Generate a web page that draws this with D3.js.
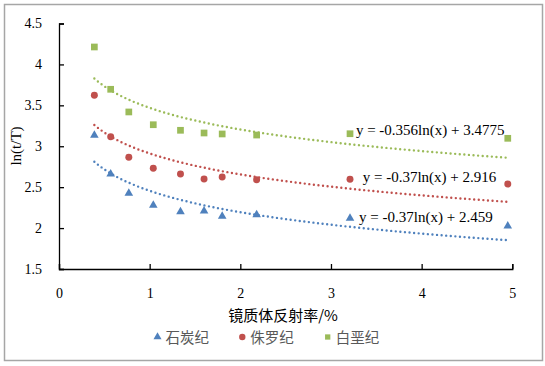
<!DOCTYPE html>
<html lang="zh">

<head>
    <meta charset="UTF-8">
    <title>ln(t/T) vs 镜质体反射率</title>
    <style>
        body {
            margin: 0;
            background-color: #fff;
        }

        .tick text {
            font-family: "Liberation Serif", "Times New Roman", serif;
            font-size: 14px;
            fill: #000;
        }

        .eq {
            font-family: "Liberation Serif", "Times New Roman", serif;
            font-size: 15px;
            fill: #000;
        }
    </style>
</head>

<body>
    <script src="https://d3js.org/d3.v7.min.js"></script>
    <div id="my_dataviz"></div>
    <script>

        // data
        const ro = [0.39, 0.57, 0.77, 1.04, 1.34, 1.60, 1.80, 2.18, 3.21, 4.95];
        const carboniferous = [3.134, 2.662, 2.425, 2.278, 2.200, 2.209, 2.144, 2.164, 2.120, 2.025];
        const jurassic = [3.623, 3.117, 2.865, 2.731, 2.662, 2.600, 2.625, 2.591, 2.596, 2.539];
        const cretaceous = [4.213, 3.696, 3.419, 3.263, 3.195, 3.162, 3.150, 3.137, 3.153, 3.097];

        const seriesNames = ["石炭纪", "侏罗纪", "白垩纪"];
        // equation text as printed on the chart
        const fitText = ["y = -0.37ln(x) + 2.459", "y = -0.37ln(x) + 2.916", "y = -0.356ln(x) + 3.4775"];
        // label anchor in data units
        const labelX = [3.31, 3.35, 3.275];
        const labelY = [2.078, 2.567, 3.137];

        const xTicks = [0, 1, 2, 3, 4, 5];
        const yTicks = [1.5, 2, 2.5, 3, 3.5, 4, 4.5];

        const colors = ["#4f81bd", "#c0504d", "#9bbb59"];
        const symbols = [d3.symbolTriangle, d3.symbolCircle, d3.symbolSquare];

        const W = 545, H = 366;
        const margin = { top: 23.5, left: 59, right: 32.7, bottom: 97 };
        const width = W - margin.left - margin.right,
            height = H - margin.top - margin.bottom;

        // log trendline, least squares like the spreadsheet does it
        function logFit(xv, yv) {
            const lx = xv.map(Math.log);
            const mx = d3.mean(lx), my = d3.mean(yv);
            let sxy = 0, sxx = 0;
            lx.forEach((v, i) => { sxy += (v - mx) * (yv[i] - my); sxx += (v - mx) * (v - mx); });
            const a = sxy / sxx;
            return { a: a, b: my - a * mx };
        }

        const root = d3.select("#my_dataviz")
            .append("svg")
            .attr("width", W)
            .attr("height", H);

        // chart border
        root.append("rect")
            .attr("x", 4.5).attr("y", 4.5)
            .attr("width", 538).attr("height", 356)
            .attr("fill", "#fff")
            .attr("stroke", "#a6a6a6")
            .attr("stroke-width", 1.5);

        const svg = root.append("g")
            .attr("transform", `translate(${margin.left},${margin.top})`);

        const x = d3.scaleLinear().domain([0, 5]).range([0, width]);
        const y = d3.scaleLinear().domain([1.5, 4.5]).range([height, 0]);

        // axes, ticks pointing inward
        const xAxis = svg.append("g")
            .attr("transform", `translate(0,${height})`)
            .call(d3.axisBottom(x).tickValues(xTicks).tickFormat(d3.format("d"))
                .tickSizeInner(-5).tickSizeOuter(-5).tickPadding(19));
        const yAxis = svg.append("g")
            .call(d3.axisLeft(y).tickValues(yTicks).tickFormat(d => d)
                .tickSizeInner(-5).tickSizeOuter(-5).tickPadding(17));
        [xAxis, yAxis].forEach(a => {
            a.select(".domain").attr("stroke", "#000").attr("stroke-width", 1.3);
            a.selectAll(".tick line").attr("stroke", "#000").attr("stroke-width", 1.3);
        });

        // axis titles
        svg.append("text")
            .attr("x", 283 - margin.left)
            .attr("y", 321 - margin.top)
            .attr("text-anchor", "middle")
            .style("font-family", "'Noto Sans CJK SC', sans-serif")
            .style("font-size", "15px")
            .style("fill", "#000")
            .text("镜质体反射率/%");

        svg.append("text")
            .attr("transform", `translate(${21 - margin.left},${146 - margin.top}) rotate(-90)`)
            .attr("text-anchor", "middle")
            .style("font-family", "'Liberation Serif', 'Times New Roman', serif")
            .style("font-size", "15px")
            .style("fill", "#000")
            .text("ln(t/T)");

        const allSeries = [carboniferous, jurassic, cretaceous];

        // trendlines (dotted)
        const xs = d3.range(0, 201).map(i => d3.min(ro) + (d3.max(ro) - d3.min(ro)) * i / 200);
        allSeries.forEach((s, k) => {
            const f = logFit(ro, s);
            svg.append("path")
                .datum(xs)
                .attr("fill", "none")
                .attr("stroke", colors[k])
                .attr("stroke-width", 2.4)
                .attr("stroke-linecap", "round")
                .attr("stroke-dasharray", "0,4.6")
                .attr("d", d3.line()
                    .x(d => x(d))
                    .y(d => y(f.a * Math.log(d) + f.b)));
        });

        // points
        allSeries.forEach((s, k) => {
            svg.append("g")
                .selectAll("path")
                .data(s.map((v, i) => ({ x: ro[i], y: v })))
                .join("path")
                .attr("transform", d => `translate(${x(d.x)},${y(d.y)})`)
                .attr("d", d3.symbol().type(symbols[k]).size(k === 1 ? 38 : (k === 0 ? 32 : 45)))
                .attr("fill", colors[k]);
        });

        // equation labels
        svg.append("g")
            .selectAll("text")
            .data(fitText)
            .join("text")
            .attr("class", "eq")
            .attr("x", (d, i) => x(labelX[i]))
            .attr("y", (d, i) => y(labelY[i]))
            .text(d => d);

        // legend
        const legX = [157.5, 242.3, 327.7];
        const leg = root.append("g");
        seriesNames.forEach((name, k) => {
            leg.append("path")
                .attr("transform", `translate(${legX[k]},337)`)
                .attr("d", d3.symbol().type(symbols[k]).size(k === 1 ? 32 : 28))
                .attr("fill", colors[k]);
            leg.append("text")
                .attr("x", legX[k] + 8)
                .attr("y", 342.5)
                .style("font-family", "'Noto Sans CJK SC', sans-serif")
                .style("font-size", "14.5px")
                .style("fill", "#595959")
                .text(name);
        });

    </script>
</body>

</html>
